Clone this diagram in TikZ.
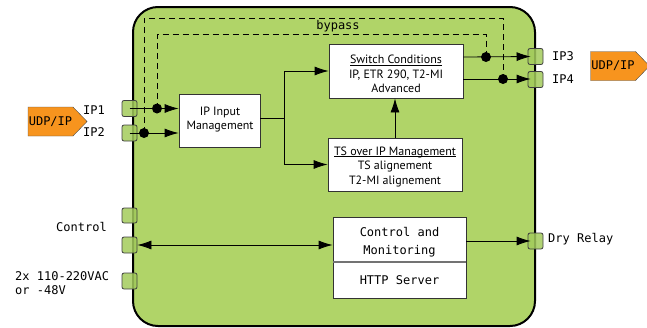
\documentclass[tikz,border=0pt]{standalone}
\usepackage{fontspec}
\setmainfont{PT Sans}
\setmonofont{DejaVu Sans Mono}
\usetikzlibrary{arrows.meta,shapes.symbols}
\newcommand\myuline[1]{\underline{\smash{#1}}}
\definecolor{boxgreen}{HTML}{B0D468}
\definecolor{portgreen}{HTML}{A3CB5C}
\definecolor{udporange}{HTML}{F7941E}
\tikzset{
  mono/.style={font=\fontsize{12}{14}\selectfont\ttfamily},
  blk/.style={draw=black!80, fill=white, line width=0.8pt, inner sep=0pt},
  txt/.style={align=center, inner sep=0pt, font=\fontsize{12}{14.5}\selectfont},
  port/.style={draw=black!75, fill=portgreen, fill opacity=0.85, line width=0.8pt,
    rounded corners=2pt, minimum width=15pt, inner sep=0pt},
  udp/.style={signal, signal to=east, signal pointer angle=92, draw=black!70, fill=udporange,
    minimum width=59pt, minimum height=29pt, inner sep=0pt,
    font=\fontsize{12}{12}\selectfont\ttfamily},
  arr/.style={-{Latex[length=14pt,width=9pt]}, line width=0.8pt},
  darr/.style={{Latex[length=14pt,width=9pt]}-{Latex[length=14pt,width=9pt]}, line width=0.8pt},
  byp/.style={dashed, dash pattern=on 6pt off 4pt, line width=0.8pt},
  dot/.style={circle, fill=black, inner sep=0pt, minimum size=10pt},
}
\begin{document}
\begin{tikzpicture}[x=1pt,y=-1pt]
\useasboundingbox (0,0) rectangle (647,327);
% main box
\draw[fill=boxgreen, line width=2pt, rounded corners=25pt] (133,7) rectangle (535,326);
% ports
\node[port, minimum height=16pt] (p1) at (129.5,108.5) {};
\node[port, minimum height=16pt] (p2) at (129.5,133) {};
\node[port, minimum height=15pt] (pc1) at (129.5,215.5) {};
\node[port, minimum height=16pt] (pc2) at (129.5,245) {};
\node[port, minimum height=16pt] (pw) at (129.5,281) {};
\node[port, minimum height=16pt] (p3) at (535.5,56.5) {};
\node[port, minimum height=16pt] (p4) at (535.5,79.5) {};
\node[port, minimum height=16pt] (pd) at (535.5,241) {};
% UDP arrows
\node[udp] (udpl) at (50.5,121.5) {UDP/IP};
\node[udp] (udpr) at (613,66) {UDP/IP};
% labels
\node[mono, anchor=west, inner sep=0pt] (l1) at (83,110) {IP1};
\node[mono, anchor=west, inner sep=0pt] (l2) at (83,132) {IP2};
\node[mono, anchor=west, inner sep=0pt] (l3) at (552,56) {IP3};
\node[mono, anchor=west, inner sep=0pt] (l4) at (552,79) {IP4};
\node[mono, anchor=east, inner sep=0pt] (lc) at (107,227) {Control};
\node[mono, anchor=west, inner sep=0pt, align=left] (lp) at (15,283) {2x 110-220VAC\\or -48V};
\node[mono, anchor=west, inner sep=0pt] (ld) at (548,239) {Dry Relay};
\node[mono, inner sep=0pt, anchor=base] (lb) at (338,29.5) {bypass};
% blocks
\node[blk, minimum width=81pt, minimum height=53pt] (ipin) at (219.5,120.5) {};
\node[txt] (ipint) at (220,119.5) {IP Input\\Management};
\node[blk, minimum width=134pt, minimum height=54pt] (sw) at (396,71) {};
\node[txt] (swt) at (396,78.5) {\myuline{Switch Conditions}\\IP, ETR 290, T2-MI\\Advanced};
\node[blk, minimum width=134pt, minimum height=53pt] (ts) at (395,164.5) {};
\node[txt] (tst) at (395,171) {\myuline{TS over IP Management}\\TS alignement\\T2-MI alignement};
\node[blk, minimum width=133pt, minimum height=45pt] (ctl) at (399.5,239.5) {};
\node[txt, font=\fontsize{12}{18}\selectfont\ttfamily] (ctlt) at (399.5,242.5) {Control and\\Monitoring};
\node[blk, minimum width=133pt, minimum height=36pt, font=\fontsize{12}{14}\selectfont\ttfamily] (http) at (399.5,280) {HTTP Server};
\draw[line width=2pt, black!55] (ctl.south west) -- (ctl.south east);
% dots
\node[dot] (d1) at (157,108.5) {};
\node[dot] (d2) at (144,133) {};
\node[dot] (d3) at (486,57) {};
\node[dot] (d4) at (503,79) {};
\coordinate (br) at (284,118.5);
% connectors
\draw[arr] (p1.center) -- (ipin.west |- p1);
\draw[arr] (p2.center) -- (ipin.west |- p2);
\draw[byp] (d1.center) -- (157,34) -- (486,34) -- (d3.center);
\draw[byp] (d2.center) -- (144,18) -- (503,18) -- (d4.center);
\draw[line width=0.8pt] (ipin.east |- br) -- (br);
\draw[arr] (br) |- (sw.west);
\draw[arr] (br) |- (ts.west);
\draw[arr] (ts.north) -- (ts.north |- sw.south);
\draw[arr] (sw.east |- d3) -- ([xshift=3pt]p3.west);
\draw[arr] (sw.east |- d4) -- ([xshift=3pt]p4.west |- d4);
\draw[darr] (pc2.east) -- (ctl.west |- pc2);
\draw[arr] (ctl.east |- pd) -- ([xshift=3pt]pd.west);
\end{tikzpicture}
\end{document}
